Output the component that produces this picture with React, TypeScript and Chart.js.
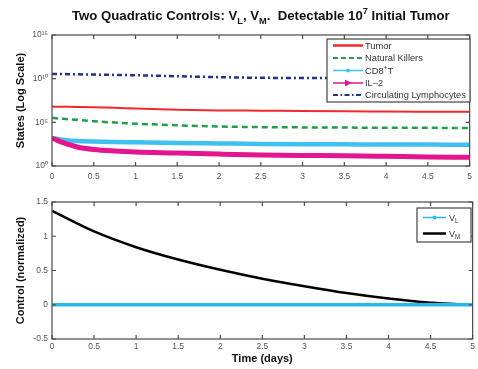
import React, { useEffect, useRef } from "react";
import { Chart, registerables } from "chart.js";
Chart.register(...registerables);

// ---------- DATA ----------
const timeTop = [0, 0.1, 0.2, 0.3, 0.5, 0.75, 1, 1.5, 2, 2.5, 3, 3.5, 4, 4.5, 5];
const tumor = [6.3e6, 6.17e6, 6.0e6, 5.75e6, 5.25e6, 4.57e6, 3.8e6, 2.82e6, 2.34e6, 2.14e6, 1.95e6, 1.82e6, 1.74e6, 1.66e6, 1.58e6];
const naturalKillers = [3.16e5, 2.69e5, 2.29e5, 2.0e5, 1.32e5, 9.5e4, 7.1e4, 4.57e4, 3.31e4, 2.82e4, 2.63e4, 2.51e4, 2.4e4, 2.34e4, 2.24e4];
const cd8T = [1585, 1072, 832, 724, 631, 562, 513, 427, 380, 339, 316, 302, 288, 282, 275];
const il2 = [1585, 631, 288, 151, 78, 52, 40, 31, 23, 18, 16, 15, 13, 11, 10];
const circulatingLymphocytes = [3.47e10, 3.39e10, 3.31e10, 3.16e10, 2.95e10, 2.69e10, 2.45e10, 1.91e10, 1.48e10, 1.26e10, 1.2e10, 1.15e10, 1.12e10, 1.1e10, 1.07e10];

const timeBottom = [0, 0.5, 1, 1.5, 2, 2.5, 3, 3.5, 4, 4.5, 5];
const controlVL = [0, 0, 0, 0, 0, 0, 0, 0, 0, 0, 0];
const controlVM = [1.37, 1.07, 0.84, 0.66, 0.51, 0.38, 0.27, 0.17, 0.09, 0.03, 0.0];

const xTicks = [0, 0.5, 1, 1.5, 2, 2.5, 3, 3.5, 4, 4.5, 5];
const topYTicks = [1, 1e5, 1e10, 1e15];
const topYTickLabels = ["10\u2070", "10\u2075", "10\u00B9\u2070", "10\u00B9\u2075"];
const bottomYTicks = [-0.5, 0, 0.5, 1, 1.5];

// ---------- helpers ----------
type Seg = { t: string; s?: "sup" | "sub" };
const FAMILY = '"Liberation Sans", Arial, Helvetica, sans-serif';

function drawRich(ctx: CanvasRenderingContext2D, segs: Seg[], x: number, y: number, size: number, weight: string, color: string, align: "left" | "center") {
  const small = size * 0.7;
  const font = (sz: number) => `${weight} ${sz}px ${FAMILY}`;
  let w = 0;
  for (const sg of segs) { ctx.font = font(sg.s ? small : size); w += ctx.measureText(sg.t).width; }
  let cx = align === "center" ? x - w / 2 : x;
  ctx.textBaseline = "alphabetic";
  ctx.textAlign = "left";
  ctx.fillStyle = color;
  for (const sg of segs) {
    const sz = sg.s ? small : size;
    ctx.font = font(sz);
    const dy = sg.s === "sup" ? -size * 0.42 : sg.s === "sub" ? size * 0.3 : 0;
    ctx.fillText(sg.t, cx, y + dy);
    cx += ctx.measureText(sg.t).width;
  }
}

type LegItem = { label: Seg[]; color: string; width: number; dash: number[]; marker?: "dot" | "tri" };

const framePlugin = {
  id: "frame",
  afterDatasetsDraw(chart: any) {
    const { ctx, chartArea: a, scales } = chart;
    ctx.save();
    ctx.strokeStyle = "#4a4a4a";
    ctx.lineWidth = 1.2;
    ctx.setLineDash([]);
    ctx.strokeRect(a.left, a.top, a.right - a.left, a.bottom - a.top);
    const tl = 4;
    ctx.beginPath();
    for (const t of scales.x.ticks) {
      const px = scales.x.getPixelForValue(t.value);
      ctx.moveTo(px, a.bottom); ctx.lineTo(px, a.bottom - tl);
      ctx.moveTo(px, a.top); ctx.lineTo(px, a.top + tl);
    }
    for (const t of scales.y.ticks) {
      const py = scales.y.getPixelForValue(t.value);
      ctx.moveTo(a.left, py); ctx.lineTo(a.left + tl, py);
      ctx.moveTo(a.right, py); ctx.lineTo(a.right - tl, py);
    }
    ctx.stroke();
    ctx.restore();
  },
};

const legendPlugin = {
  id: "boxLegend",
  afterDraw(chart: any, _args: any, opts: any) {
    if (!opts || !opts.items) return;
    const { ctx } = chart;
    const { box, items, ys, sx0, sx1, tx, fontSize } = opts;
    ctx.save();
    ctx.fillStyle = "#ffffff";
    ctx.fillRect(box.x, box.y, box.w, box.h);
    ctx.strokeStyle = "#444";
    ctx.lineWidth = 1.2;
    ctx.strokeRect(box.x, box.y, box.w, box.h);
    (items as LegItem[]).forEach((it, i) => {
      const y = ys[i];
      ctx.strokeStyle = it.color;
      ctx.lineWidth = it.width;
      ctx.setLineDash(it.dash);
      ctx.beginPath(); ctx.moveTo(sx0, y); ctx.lineTo(sx1, y); ctx.stroke();
      ctx.setLineDash([]);
      const mx = (sx0 + sx1) / 2;
      ctx.fillStyle = it.color;
      if (it.marker === "dot") { ctx.beginPath(); ctx.arc(mx, y, 2, 0, Math.PI * 2); ctx.fill(); }
      if (it.marker === "tri") { ctx.beginPath(); ctx.moveTo(mx - 3, y - 3.5); ctx.lineTo(mx + 3.5, y); ctx.lineTo(mx - 3, y + 3.5); ctx.closePath(); ctx.fill(); }
      drawRich(ctx, it.label, tx, y + fontSize * 0.36, fontSize, "normal", "#333", "left");
    });
    ctx.restore();
  },
};

const titlePlugin = {
  id: "richTitle",
  afterDraw(chart: any, _args: any, opts: any) {
    if (!opts || !opts.segs) return;
    const { ctx, chartArea: a } = chart;
    ctx.save();
    drawRich(ctx, opts.segs, (a.left + a.right) / 2, opts.y, opts.size, "bold", "#111", "center");
    ctx.restore();
  },
};

const tickFont = { family: FAMILY, size: 8.5 };
const axisTitleFont = { family: FAMILY, size: 11, weight: "bold" as const };

const pts = (xs: number[], ys: number[]) => xs.map((x, i) => ({ x, y: ys[i] }));

export default function App() {
  const topRef = useRef<HTMLCanvasElement>(null);
  const botRef = useRef<HTMLCanvasElement>(null);

  useEffect(() => {
    const xScale = (height: number, pad: number, title?: any) => ({
      type: "linear" as const,
      min: 0,
      max: 5,
      grid: { display: false, drawTicks: false },
      border: { display: false },
      afterBuildTicks: (s: any) => { s.ticks = xTicks.map((v) => ({ value: v })); },
      afterFit: (s: any) => { s.height = height; },
      ticks: { padding: pad, font: tickFont, color: "#555", maxRotation: 0, autoSkip: false, callback: (v: any) => String(v) },
      title: title || { display: false },
    });

    const top = new Chart(topRef.current!, {
      type: "line",
      data: {
        datasets: [
          { label: "IL-2", data: pts(timeTop, il2), borderColor: "#e3168f", borderWidth: 5, pointRadius: 0, cubicInterpolationMode: "monotone" },
          { label: "CD8+T", data: pts(timeTop, cd8T), borderColor: "#3ec0f0", borderWidth: 4.5, pointRadius: 0, cubicInterpolationMode: "monotone" },
          { label: "Tumor", data: pts(timeTop, tumor), borderColor: "#f02a2a", borderWidth: 2, pointRadius: 0, cubicInterpolationMode: "monotone" },
          { label: "Natural Killers", data: pts(timeTop, naturalKillers), borderColor: "#1fa048", borderWidth: 2.5, borderDash: [6, 4], pointRadius: 0, cubicInterpolationMode: "monotone" },
          { label: "Circulating Lymphocytes", data: pts(timeTop, circulatingLymphocytes), borderColor: "#25308f", borderWidth: 2.5, borderDash: [5, 3, 2, 3], pointRadius: 0, cubicInterpolationMode: "monotone" },
        ] as any,
      },
      options: {
        animation: false,
        responsive: false,
        maintainAspectRatio: false,
        layout: { padding: { top: 35, right: 5, left: 0, bottom: 0 } },
        plugins: {
          legend: { display: false },
          tooltip: { enabled: false },
          title: { display: false },
          boxLegend: {
            box: { x: 327, y: 39, w: 143, h: 63 },
            ys: [45.5, 58, 70.5, 83, 95],
            sx0: 333, sx1: 363, tx: 365, fontSize: 9.3,
            items: [
              { label: [{ t: "Tumor" }], color: "#f02a2a", width: 2.5, dash: [] },
              { label: [{ t: "Natural Killers" }], color: "#1fa048", width: 2, dash: [5, 3] },
              { label: [{ t: "CD8" }, { t: "+", s: "sup" }, { t: "T" }], color: "#3ec0f0", width: 1.5, dash: [], marker: "dot" },
              { label: [{ t: "IL\u20132" }], color: "#e3168f", width: 1.5, dash: [], marker: "tri" },
              { label: [{ t: "Circulating Lymphocytes" }], color: "#25308f", width: 2, dash: [5, 2.5, 1.5, 2.5] },
            ],
          },
          richTitle: {
            y: 20, size: 13.2,
            segs: [
              { t: "Two Quadratic Controls: V" }, { t: "L", s: "sub" }, { t: ", V" }, { t: "M", s: "sub" },
              { t: ".  Detectable 10" }, { t: "7", s: "sup" }, { t: " Initial Tumor" },
            ],
          },
        } as any,
        scales: {
          x: xScale(19, 6),
          y: {
            type: "logarithmic",
            min: 1,
            max: 1e15,
            grid: { display: false, drawTicks: false },
            border: { display: false },
            afterBuildTicks: (s: any) => { s.ticks = topYTicks.map((v) => ({ value: v })); },
            afterFit: (s: any) => { s.width = 52; },
            ticks: {
              padding: 4, font: tickFont, color: "#555", autoSkip: false,
              callback: (v: any) => { const i = topYTicks.indexOf(Number(v)); return i >= 0 ? topYTickLabels[i] : ""; },
            },
            title: { display: true, text: "States (Log Scale)", font: axisTitleFont, color: "#111", padding: { top: 14, bottom: 0 } },
          } as any,
        },
      },
      plugins: [framePlugin, legendPlugin, titlePlugin],
    });

    const bot = new Chart(botRef.current!, {
      type: "line",
      data: {
        datasets: [
          { label: "V_L", data: pts(timeBottom, controlVL), borderColor: "#2ab8ea", borderWidth: 3.5, pointRadius: 0 },
          { label: "V_M", data: pts(timeBottom, controlVM), borderColor: "#000000", borderWidth: 2.5, pointRadius: 0, cubicInterpolationMode: "monotone" },
        ] as any,
      },
      options: {
        animation: false,
        responsive: false,
        maintainAspectRatio: false,
        layout: { padding: { top: 17, right: 5, left: 0, bottom: 0 } },
        plugins: {
          legend: { display: false },
          tooltip: { enabled: false },
          title: { display: false },
          boxLegend: {
            box: { x: 417, y: 23, w: 54, h: 34 },
            ys: [32.5, 48.5],
            sx0: 423, sx1: 446, tx: 449, fontSize: 9,
            items: [
              { label: [{ t: "V" }, { t: "L", s: "sub" }], color: "#2ab8ea", width: 1.5, dash: [], marker: "dot" },
              { label: [{ t: "V" }, { t: "M", s: "sub" }], color: "#000000", width: 2.5, dash: [] },
            ],
          },
        } as any,
        scales: {
          x: xScale(30, 3, { display: true, text: "Time (days)", font: axisTitleFont, color: "#111", padding: { top: 0, bottom: 3 } }),
          y: {
            type: "linear",
            min: -0.5,
            max: 1.5,
            grid: { display: false, drawTicks: false },
            border: { display: false },
            afterBuildTicks: (s: any) => { s.ticks = bottomYTicks.map((v) => ({ value: v })); },
            afterFit: (s: any) => { s.width = 52; },
            ticks: { padding: 4, font: tickFont, color: "#555", autoSkip: false, callback: (v: any) => String(v) },
            title: { display: true, text: "Control (normalized)", font: axisTitleFont, color: "#111", padding: { top: 14, bottom: 0 } },
          } as any,
        },
      },
      plugins: [framePlugin, legendPlugin],
    });

    return () => { top.destroy(); bot.destroy(); };
  }, []);

  return (
    <div style={{ position: "absolute", left: 0, top: 0, width: 478, height: 369, background: "#fff" }}>
      <canvas ref={topRef} width={478} height={185} style={{ position: "absolute", left: 0, top: 0, width: 478, height: 185 }} />
      <canvas ref={botRef} width={478} height={184} style={{ position: "absolute", left: 0, top: 185, width: 478, height: 184 }} />
    </div>
  );
}
